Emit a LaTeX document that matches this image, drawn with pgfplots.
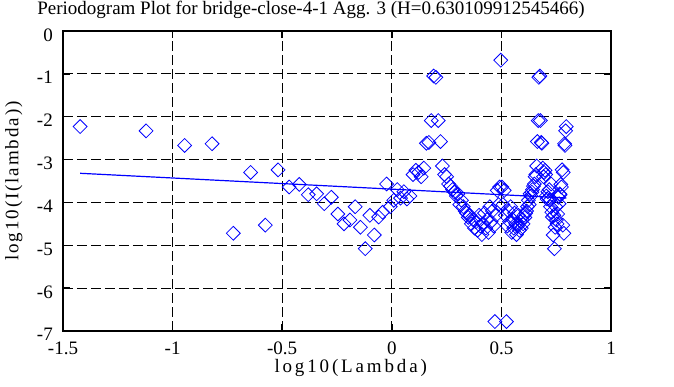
\documentclass[border=0pt]{standalone}
\usepackage{pgfplots}
\pgfplotsset{compat=1.18}
\usepackage{fontspec}
\setmainfont{Liberation Serif}
\begin{document}
\begin{tikzpicture}
\begin{axis}[
  scale only axis, width=548pt, height=300pt,
  xmin=-1.5, xmax=1, ymin=-7, ymax=0,
  xtick={-1.5,-1,-0.5,0,0.5,1},
  xticklabels={-1.5,-1,-0.5,0,0.5,1},
  ytick={-7,-6,-5,-4,-3,-2,-1,0},
  yticklabels={-7,-6,-5,-4,-3,-2,-1,0},
  grid=major,
  major grid style={black, line width=0.8pt, dash pattern=on 10pt off 4pt},
  axis line style={black, line width=1.8pt},
  major tick length=7pt,
  tick style={black, line width=1.5pt},
  every tick label/.append style={inner sep=0pt, font=\fontsize{19pt}{22pt}\selectfont},
  xticklabel style={anchor=base, yshift=-24pt},
  yticklabel style={anchor=base east, xshift=-10pt, yshift=-10pt},
  every axis title shift=0pt,
  title={Periodogram Plot for bridge-close-4-1 Agg. 3 (H=0.630109912545466)},
  title style={at={(axis description cs:0.4526,1)}, anchor=base, yshift=17pt, inner sep=0pt, font=\fontsize{19pt}{22pt}\selectfont},
  xlabel={\addfontfeature{LetterSpace=15}log10(Lambda)},
  xlabel style={at={(axis description cs:0.525,0)}, anchor=base, yshift=-42pt, inner sep=0pt, font=\fontsize{19pt}{22pt}\selectfont},
  ylabel={\addfontfeature{LetterSpace=10}log10(I(lambda))},
  ylabel style={at={(axis description cs:0,0.5)}, anchor=base, yshift=44.7pt, inner sep=0pt, font=\fontsize{19pt}{22pt}\selectfont},
]
\addplot[only marks, mark=square, mark size=4.9pt, color={rgb,255:red,0;green,0;blue,255}, mark options={rotate=45, line width=0.8pt}] coordinates {
(-1.422,-2.23) (-1.121,-2.33) (-0.945,-2.67) (-0.820,-2.63) (-0.723,-4.72)
(-0.644,-3.30) (-0.577,-4.53) (-0.519,-3.24) (-0.468,-3.64) (-0.422,-3.58)
(-0.381,-3.82) (-0.343,-3.80) (-0.308,-4.03) (-0.276,-3.88) (-0.246,-4.27)
(-0.218,-4.50) (-0.191,-4.41) (-0.167,-4.10) (-0.143,-4.58) (-0.121,-5.08)
(-0.100,-4.30) (-0.080,-4.76) (-0.060,-4.34) (-0.042,-4.23) (-0.024,-3.57)
(-0.007,-4.10) (0.009,-3.95) (0.025,-3.70) (0.040,-3.90) (0.055,-3.75)
(0.069,-3.92) (0.083,-3.85) (0.097,-3.35) (0.110,-3.25) (0.122,-3.30)
(0.134,-3.40) (0.146,-3.20) (0.158,-2.62) (0.169,-2.60) (0.180,-2.09)
(0.191,-1.05) (0.201,-1.08) (0.212,-2.09) (0.222,-2.58) (0.231,-3.15)
(0.241,-3.35) (0.250,-3.40) (0.259,-3.57) (0.268,-3.62) (0.277,-3.70)
(0.286,-3.76) (0.294,-3.85) (0.302,-3.80) (0.310,-4.05) (0.318,-3.95)
(0.326,-4.10) (0.334,-4.20) (0.341,-4.25) (0.349,-4.35) (0.356,-4.30)
(0.363,-4.50) (0.370,-4.40) (0.377,-4.60) (0.384,-4.45) (0.391,-4.65)
(0.398,-4.30) (0.404,-4.55) (0.411,-4.75) (0.417,-4.50) (0.423,-4.25)
(0.429,-4.60) (0.435,-4.40) (0.441,-4.70) (0.447,-4.10) (0.453,-4.45)
(0.459,-4.20) (0.465,-4.55) (0.470,-6.78) (0.476,-4.30) (0.481,-3.72)
(0.487,-4.05) (0.492,-3.64) (0.497,-0.68)
(0.502,-3.64) (0.507,-4.05) (0.513,-3.72) (0.518,-4.30) (0.523,-6.78)
(0.527,-4.55) (0.532,-4.20) (0.537,-4.45) (0.542,-4.10) (0.547,-4.70)
(0.551,-4.40) (0.556,-4.60) (0.560,-4.25) (0.565,-4.50) (0.569,-4.75)
(0.574,-4.55) (0.578,-4.30) (0.582,-4.65) (0.587,-4.45) (0.591,-4.60)
(0.595,-4.40) (0.599,-4.50) (0.603,-4.30) (0.607,-4.35) (0.611,-4.25)
(0.615,-4.20) (0.619,-4.10) (0.623,-3.95) (0.627,-4.05) (0.631,-3.80)
(0.635,-3.85) (0.639,-3.76) (0.642,-3.70) (0.646,-3.62) (0.650,-3.57)
(0.654,-3.40) (0.657,-3.35) (0.661,-3.15) (0.664,-2.58) (0.668,-2.09)
(0.671,-1.08) (0.675,-1.05) (0.678,-2.09) (0.682,-2.60) (0.685,-2.62)
(0.689,-3.20) (0.692,-3.40) (0.695,-3.30) (0.699,-3.25) (0.702,-3.35)
(0.705,-3.85) (0.708,-3.92) (0.712,-3.75) (0.715,-3.90) (0.718,-3.70)
(0.721,-3.95) (0.724,-4.10) (0.727,-3.57) (0.730,-4.23) (0.733,-4.34)
(0.736,-4.76) (0.739,-4.30) (0.742,-5.08) (0.745,-4.58) (0.748,-4.10)
(0.751,-4.41) (0.754,-4.50) (0.757,-4.27) (0.760,-3.88) (0.763,-4.03)
(0.766,-3.80) (0.768,-3.82) (0.771,-3.58) (0.774,-3.64) (0.777,-3.24)
(0.780,-4.53) (0.782,-3.30) (0.785,-4.72) (0.788,-2.63) (0.790,-2.67)
(0.793,-2.33) (0.796,-2.23)
};
\addplot[color={rgb,255:red,0;green,0;blue,255}, line width=1.2pt, no marks] coordinates {
(-1.422,-3.32) (0.796,-3.897)
};
\end{axis}
\pgfresetboundingbox
\path (current axis.south west) +(-63pt,-56pt) (current axis.north east) +(63pt,31pt);
\end{tikzpicture}
\end{document}
